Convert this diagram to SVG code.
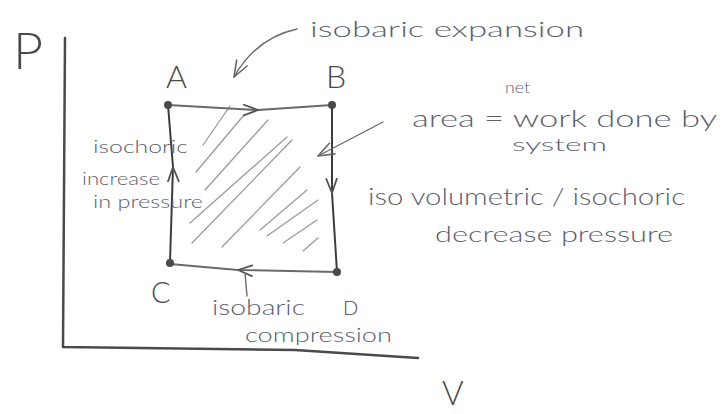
<svg xmlns="http://www.w3.org/2000/svg" width="722" height="414" viewBox="0 0 722 414">
<defs>
<style>
.bg{fill:#ffffff}
.axis{fill:none;stroke:#4a4a4a;stroke-width:2.5;stroke-linecap:round;stroke-linejoin:round}
.edge{fill:none;stroke:#3c3c3c;stroke-width:2;stroke-linecap:round;stroke-linejoin:round}
.edge-lt{fill:none;stroke:#6a6a6a;stroke-width:2;stroke-linecap:round;stroke-linejoin:round}
.hatch{fill:none;stroke:#9a9a9a;stroke-width:1.3;stroke-linecap:round}
.ptr{fill:none;stroke:#6a6a6a;stroke-width:1.4;stroke-linecap:round;stroke-linejoin:round}
.dot{fill:#4a4a4a}
.hand{font-family:Lato,"Open Sans","Liberation Sans",sans-serif;font-weight:300;fill:#5c6070}
.lbl{font-family:Lato,"Open Sans","Liberation Sans",sans-serif;font-weight:300;fill:#4a4a4a}
</style>
<marker id="chev" viewBox="0 0 18 14" refX="17" refY="7" markerWidth="16" markerHeight="13" markerUnits="userSpaceOnUse" orient="auto">
<path d="M1,1 L17,7 L1,13" fill="none" stroke="#555" stroke-width="2" stroke-linecap="round" stroke-linejoin="round"/>
</marker>
<marker id="ptrhead" viewBox="0 0 18 14" refX="17" refY="7" markerWidth="18" markerHeight="14" markerUnits="userSpaceOnUse" orient="auto">
<path d="M1,1 L17,7 L1,13" fill="none" stroke="#666" stroke-width="1.6" stroke-linecap="round" stroke-linejoin="round"/>
</marker>
</defs>
<rect class="bg" x="0" y="0" width="722" height="414"/>

<g id="axes">
<path class="axis" d="M65,38 L63,347 L295,350 L418,358"/>
<text class="lbl" x="13" y="69" font-size="52">P</text>
<text class="lbl" x="442" y="405" font-size="33">V</text>
</g>

<g id="hatching">
<line class="hatch" x1="203" y1="145" x2="230" y2="106"/>
<line class="hatch" x1="196" y1="172" x2="244" y2="115"/>
<line class="hatch" x1="205" y1="190" x2="268" y2="120"/>
<line class="hatch" x1="190" y1="223" x2="287" y2="137"/>
<line class="hatch" x1="192" y1="243" x2="292" y2="140"/>
<line class="hatch" x1="222" y1="247" x2="300" y2="167"/>
<line class="hatch" x1="260" y1="230" x2="307" y2="190"/>
<line class="hatch" x1="267" y1="236" x2="318" y2="200"/>
<line class="hatch" x1="283" y1="243" x2="317" y2="220"/>
<line class="hatch" x1="303" y1="251" x2="318" y2="238"/>
</g>

<g id="connectors">
<path id="edge-AB" class="edge-lt" d="M168,105 L258,110 L332,105" marker-mid="url(#chev)"/>
<path id="edge-BD" class="edge" d="M332,105 L332,193 L337,272" marker-mid="url(#chev)"/>
<path id="edge-DC" class="edge-lt" d="M337,272 L238,270 L170,264" marker-mid="url(#chev)"/>
<path id="edge-CA" class="edge" d="M170,262 L173,167 L168,105" marker-mid="url(#chev)"/>
<path id="ptr-expansion" class="ptr" d="M297,29 Q256,38 234,77" marker-end="url(#ptrhead)"/>
<path id="ptr-area" class="ptr" d="M383,122 L318,156" marker-end="url(#ptrhead)"/>
<path id="ptr-compression" class="ptr" d="M245,273 L247,296"/>
</g>

<g id="node-A">
<circle class="dot" cx="168" cy="105" r="4"/>
<text class="lbl" x="166" y="88" font-size="32">A</text>
</g>
<g id="node-B">
<circle class="dot" cx="332" cy="105" r="4"/>
<text class="lbl" x="326" y="88" font-size="32">B</text>
</g>
<g id="node-C">
<circle class="dot" cx="170" cy="263" r="4"/>
<text class="lbl" x="151" y="303" font-size="29">C</text>
</g>
<g id="node-D">
<circle class="dot" cx="337" cy="272" r="4"/>
<text class="lbl" x="343" y="315" font-size="20">D</text>
</g>

<g id="labels">
<text class="hand" x="310" y="37" font-size="22" textLength="274" lengthAdjust="spacingAndGlyphs">isobaric expansion</text>
<text class="hand" x="505" y="93" font-size="15" textLength="25" lengthAdjust="spacingAndGlyphs">net</text>
<text class="hand" x="412" y="127" font-size="24" textLength="305" lengthAdjust="spacingAndGlyphs">area = work done by</text>
<text class="hand" x="512" y="151" font-size="18" textLength="95" lengthAdjust="spacingAndGlyphs">system</text>
<text class="hand" x="368" y="205" font-size="24" textLength="317" lengthAdjust="spacingAndGlyphs">iso volumetric / isochoric</text>
<text class="hand" x="435" y="242" font-size="22" textLength="238" lengthAdjust="spacingAndGlyphs">decrease pressure</text>
<text class="hand" x="93" y="153" font-size="18" textLength="95" lengthAdjust="spacingAndGlyphs">isochoric</text>
<text class="hand" x="82" y="185" font-size="18" textLength="78" lengthAdjust="spacingAndGlyphs">increase</text>
<text class="hand" x="93" y="208" font-size="18" textLength="110" lengthAdjust="spacingAndGlyphs">in pressure</text>
<text class="hand" x="212" y="315" font-size="21" textLength="93" lengthAdjust="spacingAndGlyphs">isobaric</text>
<text class="hand" x="245" y="342" font-size="20" textLength="147" lengthAdjust="spacingAndGlyphs">compression</text>
</g>
</svg>
